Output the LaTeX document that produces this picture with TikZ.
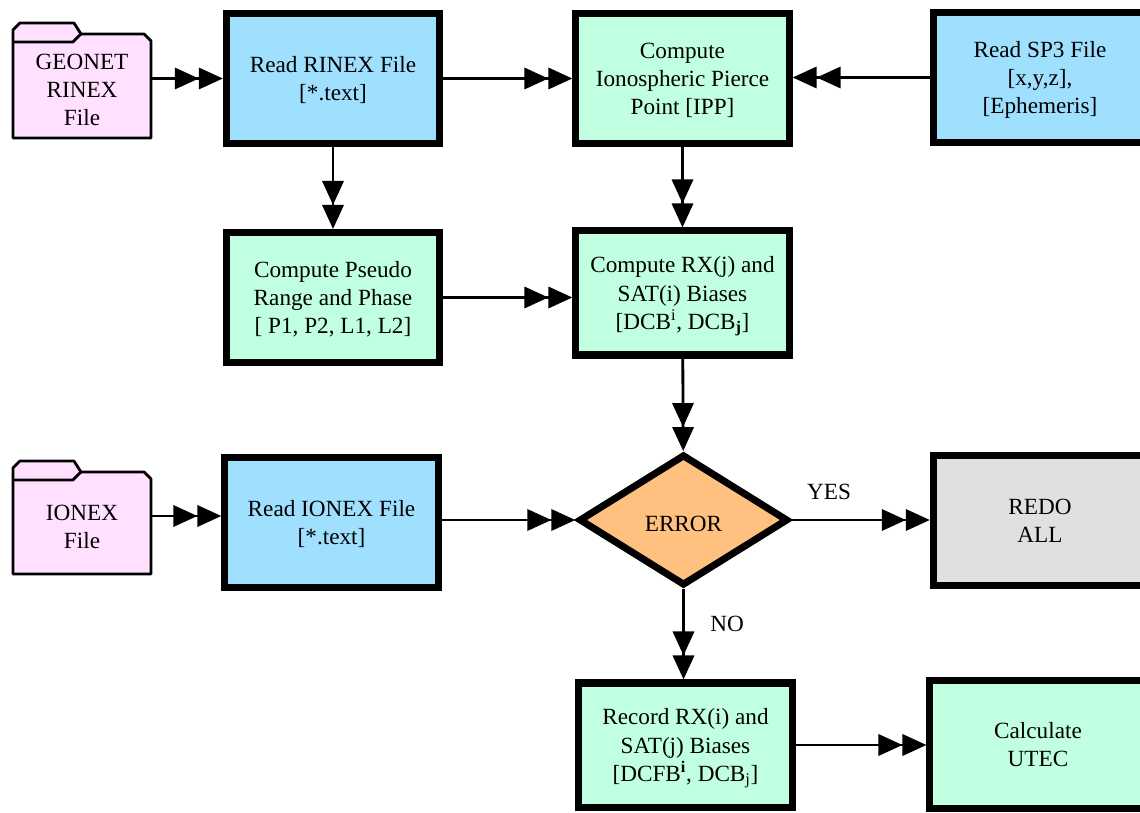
\documentclass[tikz,border=0pt]{standalone}
\usepackage{fontspec}
\setmainfont{Liberation Serif}[Ligatures=TeX]
\newfontfamily\boxfont{Liberation Serif}
\usetikzlibrary{positioning, shapes.geometric, arrows.meta, calc, backgrounds}

\definecolor{fileblue}{HTML}{A0E0FF}
\definecolor{stepgreen}{HTML}{C0FFE0}
\definecolor{folderpink}{HTML}{FFE0FF}
\definecolor{errorange}{HTML}{FFC080}
\definecolor{redogray}{HTML}{E0E0E0}

% folder outline drawn round a file node
\newcommand{\folderoutline}[1]{%
  \path[folderline, fill=folderpink] (#1.south west) -- ($(#1.north west)+(0,-12)$) -- ($(#1.north west)+(7,-19)$)
    -- ($(#1.north west)+(61,-19)$) -- ($(#1.north west)+(68,-8)$) -- ($(#1.north east)+(-7,-8)$)
    -- ($(#1.north east)+(0,-1)$) -- (#1.south east) -- cycle;
  \draw[folderline] (#1.north west) -- ++(60,0) -- ++(8,-8);
}

\begin{document}
\begin{tikzpicture}[
  x=0.025cm, y=-0.025cm,
  every node/.style={font=\boxfont\fontsize{16.5}{20}\selectfont},
  box/.style={rectangle, draw, line width=5pt, minimum width=5.33cm, minimum height=3.25cm, align=center, inner sep=2pt,
    text depth=-5pt},
  readbox/.style={box, fill=fileblue},
  procbox/.style={box, fill=stepgreen},
  decision/.style={diamond, draw, line width=5pt, fill=errorange, minimum width=5.23cm, minimum height=3.28cm, inner sep=0pt,
    execute at begin node={\rule{0pt}{16.5pt}}},
  filenode/.style={rectangle, minimum width=3.45cm, minimum height=2.4cm, inner sep=0pt, outer sep=0pt, align=center},
  folderline/.style={draw, line width=2pt, line join=round},
  arr/.style={-{Triangle[length=6mm,width=5.3mm]Triangle[length=6mm,width=5.3mm]}, line width=2pt},
]
  \useasboundingbox (0,0) rectangle (1140,813);
  \clip (0,0) rectangle (1140,813);

  \node[filenode] (geonet) at (82,90) {GEONET\\RINEX\\File};
  \node[readbox] (rinex) at (333,78.5) {Read RINEX File\\{[*.text]}};
  \node[procbox] (ipp) at (682.5,78.5) {Compute\\Ionospheric Pierce\\Point [IPP]};
  \node[readbox] (sp3) at (1040,77.5) {Read SP3 File\\{[x,y,z],}\\{[Ephemeris]}};

  \node[procbox] (pseudo) at (333,297.5) {Compute Pseudo\\Range and Phase\\{[ P1, P2, L1, L2]}};
  \node[procbox, minimum height=3.1cm] (biases) at (682.5,293) {Compute RX(j) and\\SAT(i) Biases\\{[DCB\textsuperscript{i}, DCB\textsubscript{\textbf{j}}]}};

  \node[filenode, minimum height=2.35cm] (ionexf) at (82,527) {IONEX\\File};
  \node[readbox] (ionex) at (331.5,522.5) {Read IONEX File\\{[*.text]}};
  \node[decision] (err) at (683.5,520) {ERROR};
  \node[box, fill=redogray] (redo) at (1040,520.75) {REDO\\ALL};

  \node[procbox, minimum height=3.1cm] (record) at (685.5,745) {Record RX(i) and\\SAT(j) Biases\\{[DCFB\textsuperscript{\textbf{i}}, DCB\textsubscript{j}]}};
  \node[procbox, minimum width=5.4cm, minimum height=3.18cm] (utec) at (1038,744.5) {Calculate\\UTEC};

  \node (yes) at (829,492) {YES};
  \node (no) at (727,624) {NO};

  \begin{scope}[on background layer]
    \folderoutline{geonet}
    \folderoutline{ionexf}
  \end{scope}

  \draw[arr] (geonet.east |- rinex.west) -- (rinex.west);
  \draw[arr] (rinex) -- (ipp);
  \draw[arr] (sp3.west) -- (sp3.west -| ipp.east);
  \draw[arr] (rinex) -- (pseudo);
  \draw[arr] (ipp) -- (biases);
  \draw[arr] (pseudo.east) -- (pseudo.east -| biases.west);
  \draw[arr] (biases) -- (err);

  \draw[arr] ($(ionexf.east)+(0,-11)$) -- ($(ionex.west)+(0,-6.5)$);
  \draw[arr] (ionex.east |- err.west) -- (err.west);
  \draw[arr] (err.east) -- (err.east -| redo.west);
  \draw[arr] (err.south) -- (err.south |- record.north);
  \draw[arr] (record.east) -- (record.east -| utec.west);
\end{tikzpicture}
\end{document}
